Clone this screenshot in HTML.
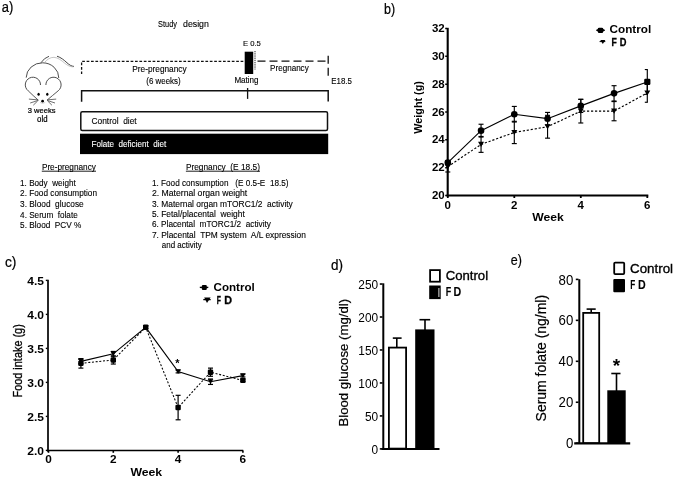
<!DOCTYPE html>
<html><head><meta charset="utf-8"><style>
html,body{margin:0;padding:0;background:#fff;}
svg{display:block;will-change:transform;font-family:"Liberation Sans", sans-serif;}
text{white-space:pre;}
</style></head><body>
<svg xml:space="preserve" width="675" height="477" viewBox="0 0 675 477">
<rect width="675" height="477" fill="#fff"/>
<text x="1.80" y="12.40" font-size="14.7" font-weight="normal" text-anchor="start" fill="#000" stroke="#000" stroke-width="0.22" textLength="11.5" lengthAdjust="spacingAndGlyphs">a)</text>
<text x="158.10" y="26.60" font-size="9.4" font-weight="normal" text-anchor="start" fill="#000" stroke="#000" stroke-width="0.12" textLength="18.9" lengthAdjust="spacingAndGlyphs">Study</text>
<text x="183.00" y="26.60" font-size="9.4" font-weight="normal" text-anchor="start" fill="#000" stroke="#000" stroke-width="0.12" textLength="25.9" lengthAdjust="spacingAndGlyphs">design</text>
<path d="M 26.2 77.6 A 16.3 15.0 0 0 1 58.8 78.0" fill="none" stroke="#444" stroke-width="0.95"/>
<path d="M 40.5 85.0 A 7.6 7.6 0 1 0 28.2 90.8" fill="none" stroke="#444" stroke-width="0.95"/>
<path d="M 45.9 85.0 A 7.6 7.6 0 1 1 58.2 90.8" fill="none" stroke="#444" stroke-width="0.95"/>
<path d="M 28.2 90.8 Q 33 95.5 38.3 100.2" fill="none" stroke="#444" stroke-width="0.9"/>
<path d="M 58.2 90.8 Q 52.5 95.5 47.0 100.2" fill="none" stroke="#444" stroke-width="0.9"/>
<ellipse cx="38.6" cy="94.2" rx="1.15" ry="1.5" fill="#000"/>
<ellipse cx="47.3" cy="94.2" rx="1.15" ry="1.5" fill="#000"/>
<circle cx="42.60" cy="101.20" r="1.35" fill="#000"/>
<path d="M 40.0 102.4 Q 42.6 104.6 45.2 102.4" fill="none" stroke="#bbb" stroke-width="0.6"/>
<line x1="38.20" y1="99.90" x2="28.90" y2="99.10" stroke="#555" stroke-width="0.85"/>
<line x1="38.20" y1="100.40" x2="30.20" y2="103.00" stroke="#555" stroke-width="0.85"/>
<line x1="37.60" y1="101.00" x2="33.30" y2="105.20" stroke="#555" stroke-width="0.85"/>
<line x1="47.10" y1="99.90" x2="56.20" y2="99.10" stroke="#555" stroke-width="0.85"/>
<line x1="47.10" y1="100.40" x2="55.00" y2="103.00" stroke="#555" stroke-width="0.85"/>
<line x1="47.70" y1="101.00" x2="51.90" y2="105.20" stroke="#555" stroke-width="0.85"/>
<path d="M 40.9 62.8 Q 44 58 49 56.3" fill="none" stroke="#444" stroke-width="0.95"/>
<path d="M 57 56.2 C 61 57.5 64 60 67 62.8 C 69.5 65 71.5 66.3 73.9 66.4" fill="none" stroke="#444" stroke-width="1.0"/>
<path d="M 44.5 62.6 C 47 59.5 50 57.3 54 57.3 C 58 57.6 61.5 60.5 64.5 63 C 67.5 65.5 70 66.8 73.3 66.9" fill="none" stroke="#aaa" stroke-width="0.7"/>
<text x="27.70" y="112.90" font-size="7.9" font-weight="normal" text-anchor="start" fill="#000" stroke="#000" stroke-width="0.22" textLength="27.8" lengthAdjust="spacingAndGlyphs">3 weeks</text>
<text x="37.10" y="121.70" font-size="8.2" font-weight="normal" text-anchor="start" fill="#000" stroke="#000" stroke-width="0.22" textLength="10.4" lengthAdjust="spacingAndGlyphs">old</text>
<line x1="82.20" y1="61.30" x2="244.70" y2="61.30" stroke="#111" stroke-width="1.3" stroke-dasharray="2.7 1.7"/>
<line x1="81.60" y1="62.60" x2="81.60" y2="75.50" stroke="#111" stroke-width="1.3" stroke-dasharray="2.7 1.7"/>
<rect x="244.70" y="51.70" width="8.50" height="22.30" fill="#000" rx="0"/>
<line x1="255.00" y1="51.00" x2="255.00" y2="69.50" stroke="#222" stroke-width="1.0" stroke-dasharray="1.3 0.9"/>
<line x1="257.50" y1="61.10" x2="326.50" y2="61.10" stroke="#111" stroke-width="1.3" stroke-dasharray="8 4"/>
<line x1="328.20" y1="55.70" x2="328.20" y2="76.50" stroke="#111" stroke-width="1.3" stroke-dasharray="8 4"/>
<text x="242.90" y="46.00" font-size="7.6" font-weight="normal" text-anchor="start" fill="#000" stroke="#000" stroke-width="0.12" textLength="18.0" lengthAdjust="spacingAndGlyphs">E 0.5</text>
<text x="132.30" y="71.80" font-size="8.7" font-weight="normal" text-anchor="start" fill="#000" stroke="#000" stroke-width="0.12" textLength="54.3" lengthAdjust="spacingAndGlyphs">Pre-pregnancy</text>
<text x="146.30" y="84.30" font-size="8.4" font-weight="normal" text-anchor="start" fill="#000" stroke="#000" stroke-width="0.12" textLength="34.4" lengthAdjust="spacingAndGlyphs">(6 weeks)</text>
<text x="234.40" y="83.40" font-size="8.4" font-weight="normal" text-anchor="start" fill="#000" stroke="#000" stroke-width="0.12" textLength="24.2" lengthAdjust="spacingAndGlyphs">Mating</text>
<text x="270.10" y="71.10" font-size="8.5" font-weight="normal" text-anchor="start" fill="#000" stroke="#000" stroke-width="0.12" textLength="38.6" lengthAdjust="spacingAndGlyphs">Pregnancy</text>
<text x="331.30" y="84.30" font-size="8.7" font-weight="normal" text-anchor="start" fill="#000" stroke="#000" stroke-width="0.12" textLength="20.6" lengthAdjust="spacingAndGlyphs">E18.5</text>
<path d="M 81.6 101.7 L 81.6 90.8 L 328.2 90.8 L 328.2 101.6" fill="none" stroke="#111" stroke-width="1.5"/>
<line x1="247.60" y1="88.00" x2="247.60" y2="98.90" stroke="#111" stroke-width="1.3"/>
<rect x="80.80" y="111.80" width="246.70" height="18.60" fill="#fff" stroke="#111" stroke-width="1.5" rx="1.5"/>
<text x="91.50" y="123.90" font-size="9.5" font-weight="normal" text-anchor="start" fill="#000" stroke="#000" stroke-width="0.12" textLength="45.2" lengthAdjust="spacingAndGlyphs">Control  diet</text>
<rect x="80.00" y="133.70" width="248.20" height="20.40" fill="#000" rx="0"/>
<text x="91.50" y="146.60" font-size="9.7" font-weight="normal" text-anchor="start" fill="#fff" stroke="#fff" stroke-width="0.12" textLength="74.8" lengthAdjust="spacingAndGlyphs">Folate  deficient  diet</text>
<text x="41.90" y="169.80" font-size="9.0" font-weight="normal" text-anchor="start" fill="#000" stroke="#000" stroke-width="0.12" textLength="54.0" lengthAdjust="spacingAndGlyphs">Pre-pregnancy</text>
<line x1="41.80" y1="171.20" x2="96.00" y2="171.20" stroke="#000" stroke-width="0.9"/>
<text x="185.90" y="169.80" font-size="9.4" font-weight="normal" text-anchor="start" fill="#000" stroke="#000" stroke-width="0.12" textLength="74.1" lengthAdjust="spacingAndGlyphs">Pregnancy  (E 18.5)</text>
<line x1="185.90" y1="171.20" x2="260.00" y2="171.20" stroke="#000" stroke-width="0.9"/>
<text x="20.10" y="186.30" font-size="9.4" font-weight="normal" text-anchor="start" fill="#000" stroke="#000" stroke-width="0.12" textLength="55.6" lengthAdjust="spacingAndGlyphs">1. Body  weight</text>
<text x="20.10" y="196.30" font-size="9.4" font-weight="normal" text-anchor="start" fill="#000" stroke="#000" stroke-width="0.12" textLength="76.9" lengthAdjust="spacingAndGlyphs">2. Food consumption</text>
<text x="20.10" y="207.00" font-size="9.4" font-weight="normal" text-anchor="start" fill="#000" stroke="#000" stroke-width="0.12" textLength="63.6" lengthAdjust="spacingAndGlyphs">3. Blood  glucose</text>
<text x="20.10" y="217.70" font-size="9.4" font-weight="normal" text-anchor="start" fill="#000" stroke="#000" stroke-width="0.12" textLength="57.6" lengthAdjust="spacingAndGlyphs">4. Serum  folate</text>
<text x="20.10" y="227.70" font-size="9.4" font-weight="normal" text-anchor="start" fill="#000" stroke="#000" stroke-width="0.12" textLength="61.3" lengthAdjust="spacingAndGlyphs">5. Blood  PCV %</text>
<text x="151.90" y="186.40" font-size="9.4" font-weight="normal" text-anchor="start" fill="#000" stroke="#000" stroke-width="0.12" textLength="136.7" lengthAdjust="spacingAndGlyphs">1. Food consumption   (E 0.5-E  18.5)</text>
<text x="151.90" y="196.20" font-size="9.4" font-weight="normal" text-anchor="start" fill="#000" stroke="#000" stroke-width="0.12" textLength="95.3" lengthAdjust="spacingAndGlyphs">2. Maternal organ weight</text>
<text x="151.90" y="206.50" font-size="9.4" font-weight="normal" text-anchor="start" fill="#000" stroke="#000" stroke-width="0.12" textLength="140.9" lengthAdjust="spacingAndGlyphs">3. Maternal organ mTORC1/2  activity</text>
<text x="151.90" y="216.80" font-size="9.4" font-weight="normal" text-anchor="start" fill="#000" stroke="#000" stroke-width="0.12" textLength="92.9" lengthAdjust="spacingAndGlyphs">5. Fetal/placental  weight</text>
<text x="151.90" y="227.10" font-size="9.4" font-weight="normal" text-anchor="start" fill="#000" stroke="#000" stroke-width="0.12" textLength="119.0" lengthAdjust="spacingAndGlyphs">6. Placental  mTORC1/2  activity</text>
<text x="151.90" y="237.50" font-size="9.4" font-weight="normal" text-anchor="start" fill="#000" stroke="#000" stroke-width="0.12" textLength="154.0" lengthAdjust="spacingAndGlyphs">7. Placental  TPM system  A/L expression</text>
<text x="161.80" y="247.60" font-size="9.4" font-weight="normal" text-anchor="start" fill="#000" stroke="#000" stroke-width="0.12" textLength="39.9" lengthAdjust="spacingAndGlyphs">and activity</text>
<text x="384.00" y="13.80" font-size="14.7" font-weight="normal" text-anchor="start" fill="#000" stroke="#000" stroke-width="0.22" textLength="11.1" lengthAdjust="spacingAndGlyphs">b)</text>
<line x1="447.70" y1="27.80" x2="447.70" y2="196.50" stroke="#000" stroke-width="2.1"/>
<line x1="446.60" y1="195.50" x2="648.30" y2="195.50" stroke="#000" stroke-width="2.0"/>
<line x1="445.20" y1="195.50" x2="447.00" y2="195.50" stroke="#000" stroke-width="1.5"/>
<text x="431.90" y="199.15" font-size="10.3" font-weight="bold" text-anchor="start" fill="#000" textLength="12.8" lengthAdjust="spacingAndGlyphs">20</text>
<line x1="445.20" y1="167.67" x2="447.00" y2="167.67" stroke="#000" stroke-width="1.5"/>
<text x="431.90" y="171.32" font-size="10.3" font-weight="bold" text-anchor="start" fill="#000" textLength="12.8" lengthAdjust="spacingAndGlyphs">22</text>
<line x1="445.20" y1="139.83" x2="447.00" y2="139.83" stroke="#000" stroke-width="1.5"/>
<text x="431.90" y="143.48" font-size="10.3" font-weight="bold" text-anchor="start" fill="#000" textLength="12.8" lengthAdjust="spacingAndGlyphs">24</text>
<line x1="445.20" y1="112.00" x2="447.00" y2="112.00" stroke="#000" stroke-width="1.5"/>
<text x="431.90" y="115.65" font-size="10.3" font-weight="bold" text-anchor="start" fill="#000" textLength="12.8" lengthAdjust="spacingAndGlyphs">26</text>
<line x1="445.20" y1="84.16" x2="447.00" y2="84.16" stroke="#000" stroke-width="1.5"/>
<text x="431.90" y="87.81" font-size="10.3" font-weight="bold" text-anchor="start" fill="#000" textLength="12.8" lengthAdjust="spacingAndGlyphs">28</text>
<line x1="445.20" y1="56.33" x2="447.00" y2="56.33" stroke="#000" stroke-width="1.5"/>
<text x="431.90" y="59.98" font-size="10.3" font-weight="bold" text-anchor="start" fill="#000" textLength="12.8" lengthAdjust="spacingAndGlyphs">30</text>
<line x1="445.20" y1="28.50" x2="447.00" y2="28.50" stroke="#000" stroke-width="1.5"/>
<text x="431.90" y="32.15" font-size="10.3" font-weight="bold" text-anchor="start" fill="#000" textLength="12.8" lengthAdjust="spacingAndGlyphs">32</text>
<line x1="447.80" y1="195.50" x2="447.80" y2="198.00" stroke="#000" stroke-width="1.8"/>
<text x="444.60" y="208.90" font-size="10.3" font-weight="bold" text-anchor="start" fill="#000" textLength="6.4" lengthAdjust="spacingAndGlyphs">0</text>
<line x1="514.30" y1="195.50" x2="514.30" y2="198.00" stroke="#000" stroke-width="1.8"/>
<text x="511.10" y="208.90" font-size="10.3" font-weight="bold" text-anchor="start" fill="#000" textLength="6.4" lengthAdjust="spacingAndGlyphs">2</text>
<line x1="580.80" y1="195.50" x2="580.80" y2="198.00" stroke="#000" stroke-width="1.8"/>
<text x="577.60" y="208.90" font-size="10.3" font-weight="bold" text-anchor="start" fill="#000" textLength="6.4" lengthAdjust="spacingAndGlyphs">4</text>
<line x1="647.30" y1="195.50" x2="647.30" y2="198.00" stroke="#000" stroke-width="1.8"/>
<text x="644.10" y="208.90" font-size="10.3" font-weight="bold" text-anchor="start" fill="#000" textLength="6.4" lengthAdjust="spacingAndGlyphs">6</text>
<text x="532.30" y="221.10" font-size="10.8" font-weight="bold" text-anchor="start" fill="#000" textLength="31.58" lengthAdjust="spacingAndGlyphs">Week</text>
<text x="422.50" y="133.70" font-size="11.6" font-weight="bold" text-anchor="start" fill="#000" textLength="52.6" lengthAdjust="spacingAndGlyphs" transform="rotate(-90 422.50 133.70)">Weight (g)</text>
<line x1="447.80" y1="160.57" x2="447.80" y2="164.74" stroke="#000" stroke-width="1.15"/>
<line x1="445.30" y1="160.57" x2="450.30" y2="160.57" stroke="#000" stroke-width="1.15"/>
<line x1="445.30" y1="164.74" x2="450.30" y2="164.74" stroke="#000" stroke-width="1.15"/>
<line x1="447.80" y1="161.40" x2="447.80" y2="171.98" stroke="#000" stroke-width="1.15"/>
<line x1="445.30" y1="161.40" x2="450.30" y2="161.40" stroke="#000" stroke-width="1.15"/>
<line x1="445.30" y1="171.98" x2="450.30" y2="171.98" stroke="#000" stroke-width="1.15"/>
<line x1="481.05" y1="124.24" x2="481.05" y2="137.05" stroke="#000" stroke-width="1.15"/>
<line x1="478.55" y1="124.24" x2="483.55" y2="124.24" stroke="#000" stroke-width="1.15"/>
<line x1="478.55" y1="137.05" x2="483.55" y2="137.05" stroke="#000" stroke-width="1.15"/>
<line x1="481.05" y1="136.49" x2="481.05" y2="152.36" stroke="#000" stroke-width="1.15"/>
<line x1="478.55" y1="136.49" x2="483.55" y2="136.49" stroke="#000" stroke-width="1.15"/>
<line x1="478.55" y1="152.36" x2="483.55" y2="152.36" stroke="#000" stroke-width="1.15"/>
<line x1="514.30" y1="106.43" x2="514.30" y2="122.02" stroke="#000" stroke-width="1.15"/>
<line x1="511.80" y1="106.43" x2="516.80" y2="106.43" stroke="#000" stroke-width="1.15"/>
<line x1="511.80" y1="122.02" x2="516.80" y2="122.02" stroke="#000" stroke-width="1.15"/>
<line x1="514.30" y1="121.32" x2="514.30" y2="143.59" stroke="#000" stroke-width="1.15"/>
<line x1="511.80" y1="121.32" x2="516.80" y2="121.32" stroke="#000" stroke-width="1.15"/>
<line x1="511.80" y1="143.59" x2="516.80" y2="143.59" stroke="#000" stroke-width="1.15"/>
<line x1="547.55" y1="112.42" x2="547.55" y2="124.94" stroke="#000" stroke-width="1.15"/>
<line x1="545.05" y1="112.42" x2="550.05" y2="112.42" stroke="#000" stroke-width="1.15"/>
<line x1="545.05" y1="124.94" x2="550.05" y2="124.94" stroke="#000" stroke-width="1.15"/>
<line x1="547.55" y1="115.34" x2="547.55" y2="138.16" stroke="#000" stroke-width="1.15"/>
<line x1="545.05" y1="115.34" x2="550.05" y2="115.34" stroke="#000" stroke-width="1.15"/>
<line x1="545.05" y1="138.16" x2="550.05" y2="138.16" stroke="#000" stroke-width="1.15"/>
<line x1="580.80" y1="99.33" x2="580.80" y2="112.42" stroke="#000" stroke-width="1.15"/>
<line x1="578.30" y1="99.33" x2="583.30" y2="99.33" stroke="#000" stroke-width="1.15"/>
<line x1="578.30" y1="112.42" x2="583.30" y2="112.42" stroke="#000" stroke-width="1.15"/>
<line x1="580.80" y1="99.33" x2="580.80" y2="122.99" stroke="#000" stroke-width="1.15"/>
<line x1="578.30" y1="99.33" x2="583.30" y2="99.33" stroke="#000" stroke-width="1.15"/>
<line x1="578.30" y1="122.99" x2="583.30" y2="122.99" stroke="#000" stroke-width="1.15"/>
<line x1="614.05" y1="85.69" x2="614.05" y2="101.00" stroke="#000" stroke-width="1.15"/>
<line x1="611.55" y1="85.69" x2="616.55" y2="85.69" stroke="#000" stroke-width="1.15"/>
<line x1="611.55" y1="101.00" x2="616.55" y2="101.00" stroke="#000" stroke-width="1.15"/>
<line x1="614.05" y1="101.56" x2="614.05" y2="120.77" stroke="#000" stroke-width="1.15"/>
<line x1="611.55" y1="101.56" x2="616.55" y2="101.56" stroke="#000" stroke-width="1.15"/>
<line x1="611.55" y1="120.77" x2="616.55" y2="120.77" stroke="#000" stroke-width="1.15"/>
<line x1="647.30" y1="69.55" x2="647.30" y2="94.32" stroke="#000" stroke-width="1.15"/>
<line x1="644.80" y1="69.55" x2="647.80" y2="69.55" stroke="#000" stroke-width="1.15"/>
<line x1="644.80" y1="94.32" x2="647.80" y2="94.32" stroke="#000" stroke-width="1.15"/>
<line x1="647.30" y1="83.61" x2="647.30" y2="102.26" stroke="#000" stroke-width="1.15"/>
<line x1="644.80" y1="83.61" x2="647.80" y2="83.61" stroke="#000" stroke-width="1.15"/>
<line x1="644.80" y1="102.26" x2="647.80" y2="102.26" stroke="#000" stroke-width="1.15"/>
<path d="M 447.80 162.66 L 481.05 130.65 L 514.30 114.22 L 547.55 118.68 L 580.80 105.87 L 614.05 93.35 L 647.30 81.94" fill="none" stroke="#000" stroke-width="1.15"/>
<path d="M 447.80 166.69 L 481.05 144.42 L 514.30 132.46 L 547.55 126.75 L 580.80 111.16 L 614.05 111.16 L 647.30 92.93" fill="none" stroke="#000" stroke-width="1.15" stroke-dasharray="2.2 1.8"/>
<circle cx="447.80" cy="162.66" r="3.30" fill="#000"/>
<path d="M 444.80 164.14 L 450.80 164.14 L 447.80 169.24 Z" fill="#000" stroke="none" stroke-width="1"/>
<circle cx="481.05" cy="130.65" r="3.30" fill="#000"/>
<path d="M 478.05 141.87 L 484.05 141.87 L 481.05 146.97 Z" fill="#000" stroke="none" stroke-width="1"/>
<circle cx="514.30" cy="114.22" r="3.30" fill="#000"/>
<path d="M 511.30 129.91 L 517.30 129.91 L 514.30 135.01 Z" fill="#000" stroke="none" stroke-width="1"/>
<circle cx="547.55" cy="118.68" r="3.30" fill="#000"/>
<path d="M 544.55 124.20 L 550.55 124.20 L 547.55 129.30 Z" fill="#000" stroke="none" stroke-width="1"/>
<circle cx="580.80" cy="105.87" r="3.30" fill="#000"/>
<path d="M 577.80 108.61 L 583.80 108.61 L 580.80 113.71 Z" fill="#000" stroke="none" stroke-width="1"/>
<circle cx="614.05" cy="93.35" r="3.30" fill="#000"/>
<path d="M 611.05 108.61 L 617.05 108.61 L 614.05 113.71 Z" fill="#000" stroke="none" stroke-width="1"/>
<rect x="644.20" y="78.84" width="6.20" height="6.20" fill="#000" rx="1.2"/>
<path d="M 644.30 90.38 L 650.30 90.38 L 647.30 95.48 Z" fill="#000" stroke="none" stroke-width="1"/>
<line x1="596.30" y1="30.30" x2="604.80" y2="30.30" stroke="#000" stroke-width="1.4"/>
<rect x="597.90" y="27.70" width="5.20" height="5.20" fill="#000" rx="1.2"/>
<path d="M 596.8 30.3 L 598.2 28.3 L 602.8 28.3 L 604.3 30.3 L 602.8 32.3 L 598.2 32.3 Z" fill="#000" stroke="none" stroke-width="1"/>
<line x1="599.60" y1="41.60" x2="605.30" y2="41.60" stroke="#000" stroke-width="1.0"/>
<path d="M 600.30 39.88 L 605.30 39.88 L 602.80 44.12 Z" fill="#000" stroke="none" stroke-width="1"/>
<text x="609.50" y="32.90" font-size="11.0" font-weight="bold" text-anchor="start" fill="#000" textLength="41.7" lengthAdjust="spacingAndGlyphs">Control</text>
<text x="611.60" y="45.60" font-size="10.4" font-weight="bold" text-anchor="start" fill="#000" stroke="#000" stroke-width="0.3" textLength="5.3" lengthAdjust="spacingAndGlyphs">F</text>
<text x="619.70" y="45.60" font-size="10.4" font-weight="bold" text-anchor="start" fill="#000" stroke="#000" stroke-width="0.3" textLength="6.7" lengthAdjust="spacingAndGlyphs">D</text>
<text x="4.90" y="267.00" font-size="14.7" font-weight="normal" text-anchor="start" fill="#000" stroke="#000" stroke-width="0.22" textLength="11.5" lengthAdjust="spacingAndGlyphs">c)</text>
<line x1="48.00" y1="279.80" x2="48.00" y2="451.80" stroke="#000" stroke-width="1.7"/>
<line x1="47.20" y1="450.50" x2="243.20" y2="450.50" stroke="#000" stroke-width="1.6"/>
<line x1="45.80" y1="450.40" x2="47.50" y2="450.40" stroke="#000" stroke-width="1.4"/>
<text x="27.27" y="454.80" font-size="10.2" font-weight="bold" text-anchor="start" fill="#000" textLength="16.73" lengthAdjust="spacingAndGlyphs">2.0</text>
<line x1="45.80" y1="416.40" x2="47.50" y2="416.40" stroke="#000" stroke-width="1.4"/>
<text x="27.27" y="420.80" font-size="10.2" font-weight="bold" text-anchor="start" fill="#000" textLength="16.73" lengthAdjust="spacingAndGlyphs">2.5</text>
<line x1="45.80" y1="382.40" x2="47.50" y2="382.40" stroke="#000" stroke-width="1.4"/>
<text x="27.27" y="386.80" font-size="10.2" font-weight="bold" text-anchor="start" fill="#000" textLength="16.73" lengthAdjust="spacingAndGlyphs">3.0</text>
<line x1="45.80" y1="348.40" x2="47.50" y2="348.40" stroke="#000" stroke-width="1.4"/>
<text x="27.27" y="352.80" font-size="10.2" font-weight="bold" text-anchor="start" fill="#000" textLength="16.73" lengthAdjust="spacingAndGlyphs">3.5</text>
<line x1="45.80" y1="314.40" x2="47.50" y2="314.40" stroke="#000" stroke-width="1.4"/>
<text x="27.27" y="318.80" font-size="10.2" font-weight="bold" text-anchor="start" fill="#000" textLength="16.73" lengthAdjust="spacingAndGlyphs">4.0</text>
<line x1="45.80" y1="280.40" x2="47.50" y2="280.40" stroke="#000" stroke-width="1.4"/>
<text x="27.27" y="284.80" font-size="10.2" font-weight="bold" text-anchor="start" fill="#000" textLength="16.73" lengthAdjust="spacingAndGlyphs">4.5</text>
<line x1="48.50" y1="450.50" x2="48.50" y2="452.80" stroke="#000" stroke-width="1.6"/>
<text x="45.22" y="463.00" font-size="10.0" font-weight="bold" text-anchor="start" fill="#000" textLength="6.56" lengthAdjust="spacingAndGlyphs">0</text>
<line x1="113.30" y1="450.50" x2="113.30" y2="452.80" stroke="#000" stroke-width="1.6"/>
<text x="110.02" y="463.00" font-size="10.0" font-weight="bold" text-anchor="start" fill="#000" textLength="6.56" lengthAdjust="spacingAndGlyphs">2</text>
<line x1="178.10" y1="450.50" x2="178.10" y2="452.80" stroke="#000" stroke-width="1.6"/>
<text x="174.82" y="463.00" font-size="10.0" font-weight="bold" text-anchor="start" fill="#000" textLength="6.56" lengthAdjust="spacingAndGlyphs">4</text>
<line x1="242.90" y1="450.50" x2="242.90" y2="452.80" stroke="#000" stroke-width="1.6"/>
<text x="239.62" y="463.00" font-size="10.0" font-weight="bold" text-anchor="start" fill="#000" textLength="6.56" lengthAdjust="spacingAndGlyphs">6</text>
<text x="130.40" y="475.60" font-size="10.5" font-weight="bold" text-anchor="start" fill="#000" textLength="31.78" lengthAdjust="spacingAndGlyphs">Week</text>
<text x="21.80" y="397.50" font-size="12.2" font-weight="normal" text-anchor="start" fill="#000" stroke="#000" stroke-width="0.3" textLength="73.3" lengthAdjust="spacingAndGlyphs" transform="rotate(-90 21.80 397.50)">Food intake (g)</text>
<line x1="80.90" y1="358.60" x2="80.90" y2="368.12" stroke="#000" stroke-width="1.2"/>
<line x1="78.40" y1="358.60" x2="83.40" y2="358.60" stroke="#000" stroke-width="1.2"/>
<line x1="78.40" y1="368.12" x2="83.40" y2="368.12" stroke="#000" stroke-width="1.2"/>
<line x1="80.90" y1="358.94" x2="80.90" y2="363.70" stroke="#000" stroke-width="1.2"/>
<line x1="78.40" y1="358.94" x2="83.40" y2="358.94" stroke="#000" stroke-width="1.2"/>
<line x1="78.40" y1="363.70" x2="83.40" y2="363.70" stroke="#000" stroke-width="1.2"/>
<line x1="113.30" y1="355.88" x2="113.30" y2="364.04" stroke="#000" stroke-width="1.2"/>
<line x1="110.80" y1="355.88" x2="115.80" y2="355.88" stroke="#000" stroke-width="1.2"/>
<line x1="110.80" y1="364.04" x2="115.80" y2="364.04" stroke="#000" stroke-width="1.2"/>
<line x1="113.30" y1="351.46" x2="113.30" y2="356.22" stroke="#000" stroke-width="1.2"/>
<line x1="110.80" y1="351.46" x2="115.80" y2="351.46" stroke="#000" stroke-width="1.2"/>
<line x1="110.80" y1="356.22" x2="115.80" y2="356.22" stroke="#000" stroke-width="1.2"/>
<line x1="145.70" y1="325.96" x2="145.70" y2="328.68" stroke="#000" stroke-width="1.2"/>
<line x1="143.20" y1="325.96" x2="148.20" y2="325.96" stroke="#000" stroke-width="1.2"/>
<line x1="143.20" y1="328.68" x2="148.20" y2="328.68" stroke="#000" stroke-width="1.2"/>
<line x1="145.70" y1="325.96" x2="145.70" y2="328.68" stroke="#000" stroke-width="1.2"/>
<line x1="143.20" y1="325.96" x2="148.20" y2="325.96" stroke="#000" stroke-width="1.2"/>
<line x1="143.20" y1="328.68" x2="148.20" y2="328.68" stroke="#000" stroke-width="1.2"/>
<line x1="178.10" y1="395.32" x2="178.10" y2="419.80" stroke="#000" stroke-width="1.2"/>
<line x1="175.60" y1="395.32" x2="180.60" y2="395.32" stroke="#000" stroke-width="1.2"/>
<line x1="175.60" y1="419.80" x2="180.60" y2="419.80" stroke="#000" stroke-width="1.2"/>
<line x1="178.10" y1="370.16" x2="178.10" y2="372.88" stroke="#000" stroke-width="1.2"/>
<line x1="175.60" y1="370.16" x2="180.60" y2="370.16" stroke="#000" stroke-width="1.2"/>
<line x1="175.60" y1="372.88" x2="180.60" y2="372.88" stroke="#000" stroke-width="1.2"/>
<line x1="210.50" y1="368.12" x2="210.50" y2="376.28" stroke="#000" stroke-width="1.2"/>
<line x1="208.00" y1="368.12" x2="213.00" y2="368.12" stroke="#000" stroke-width="1.2"/>
<line x1="208.00" y1="376.28" x2="213.00" y2="376.28" stroke="#000" stroke-width="1.2"/>
<line x1="210.50" y1="379.00" x2="210.50" y2="384.44" stroke="#000" stroke-width="1.2"/>
<line x1="208.00" y1="379.00" x2="213.00" y2="379.00" stroke="#000" stroke-width="1.2"/>
<line x1="208.00" y1="384.44" x2="213.00" y2="384.44" stroke="#000" stroke-width="1.2"/>
<line x1="242.90" y1="379.00" x2="242.90" y2="381.72" stroke="#000" stroke-width="1.2"/>
<line x1="240.40" y1="379.00" x2="245.40" y2="379.00" stroke="#000" stroke-width="1.2"/>
<line x1="240.40" y1="381.72" x2="245.40" y2="381.72" stroke="#000" stroke-width="1.2"/>
<line x1="242.90" y1="374.24" x2="242.90" y2="376.96" stroke="#000" stroke-width="1.2"/>
<line x1="240.40" y1="374.24" x2="245.40" y2="374.24" stroke="#000" stroke-width="1.2"/>
<line x1="240.40" y1="376.96" x2="245.40" y2="376.96" stroke="#000" stroke-width="1.2"/>
<path d="M 80.90 361.32 L 113.30 353.84 L 145.70 327.32 L 178.10 371.52 L 210.50 381.72 L 242.90 375.60" fill="none" stroke="#000" stroke-width="1.15"/>
<path d="M 80.90 363.36 L 113.30 359.96 L 145.70 327.32 L 178.10 407.56 L 210.50 372.20 L 242.90 380.36" fill="none" stroke="#000" stroke-width="1.05" stroke-dasharray="2.0 1.7"/>
<rect x="78.20" y="360.66" width="5.40" height="5.40" fill="#000" rx="1.2"/>
<path d="M 78.10 358.94 L 83.70 358.94 L 80.90 363.70 Z" fill="#000" stroke="none" stroke-width="1"/>
<rect x="110.60" y="357.26" width="5.40" height="5.40" fill="#000" rx="1.2"/>
<path d="M 110.50 351.46 L 116.10 351.46 L 113.30 356.22 Z" fill="#000" stroke="none" stroke-width="1"/>
<rect x="143.00" y="324.62" width="5.40" height="5.40" fill="#000" rx="1.2"/>
<path d="M 142.90 324.94 L 148.50 324.94 L 145.70 329.70 Z" fill="#000" stroke="none" stroke-width="1"/>
<rect x="175.40" y="404.86" width="5.40" height="5.40" fill="#000" rx="1.2"/>
<path d="M 175.30 369.14 L 180.90 369.14 L 178.10 373.90 Z" fill="#000" stroke="none" stroke-width="1"/>
<rect x="207.80" y="369.50" width="5.40" height="5.40" fill="#000" rx="1.2"/>
<path d="M 207.70 379.34 L 213.30 379.34 L 210.50 384.10 Z" fill="#000" stroke="none" stroke-width="1"/>
<rect x="240.20" y="377.66" width="5.40" height="5.40" fill="#000" rx="1.2"/>
<path d="M 240.10 373.22 L 245.70 373.22 L 242.90 377.98 Z" fill="#000" stroke="none" stroke-width="1"/>
<text x="177.30" y="366.60" font-size="11" font-weight="bold" text-anchor="middle" fill="#000">*</text>
<line x1="199.80" y1="287.40" x2="208.30" y2="287.40" stroke="#000" stroke-width="1.4"/>
<rect x="201.80" y="284.90" width="5.00" height="5.00" fill="#000" rx="1.2"/>
<line x1="203.30" y1="299.60" x2="210.70" y2="299.60" stroke="#000" stroke-width="1.3"/>
<path d="M 204.2 297.4 L 210.6 297.4 L 207.0 303.0 Z" fill="#000" stroke="none" stroke-width="1"/>
<text x="213.50" y="290.80" font-size="10.3" font-weight="bold" text-anchor="start" fill="#000" textLength="41.3" lengthAdjust="spacingAndGlyphs">Control</text>
<text x="216.80" y="303.50" font-size="10.6" font-weight="bold" text-anchor="start" fill="#000" stroke="#000" stroke-width="0.3" textLength="4.2" lengthAdjust="spacingAndGlyphs">F</text>
<text x="224.20" y="303.50" font-size="10.6" font-weight="bold" text-anchor="start" fill="#000" stroke="#000" stroke-width="0.3" textLength="7.8" lengthAdjust="spacingAndGlyphs">D</text>
<text x="331.10" y="270.00" font-size="14.7" font-weight="normal" text-anchor="start" fill="#000" stroke="#000" stroke-width="0.22" textLength="12.0" lengthAdjust="spacingAndGlyphs">d)</text>
<line x1="383.30" y1="283.30" x2="383.30" y2="449.50" stroke="#000" stroke-width="2.0"/>
<line x1="381.50" y1="449.00" x2="439.50" y2="449.00" stroke="#000" stroke-width="2.1"/>
<line x1="379.80" y1="448.90" x2="382.50" y2="448.90" stroke="#000" stroke-width="1.6"/>
<text x="371.50" y="453.60" font-size="13.2" font-weight="normal" text-anchor="start" fill="#000" textLength="6.6" lengthAdjust="spacingAndGlyphs">0</text>
<line x1="379.80" y1="415.92" x2="382.50" y2="415.92" stroke="#000" stroke-width="1.6"/>
<text x="364.90" y="420.62" font-size="13.2" font-weight="normal" text-anchor="start" fill="#000" textLength="13.2" lengthAdjust="spacingAndGlyphs">50</text>
<line x1="379.80" y1="382.95" x2="382.50" y2="382.95" stroke="#000" stroke-width="1.6"/>
<text x="358.30" y="387.65" font-size="13.2" font-weight="normal" text-anchor="start" fill="#000" textLength="19.81" lengthAdjust="spacingAndGlyphs">100</text>
<line x1="379.80" y1="349.97" x2="382.50" y2="349.97" stroke="#000" stroke-width="1.6"/>
<text x="358.30" y="354.67" font-size="13.2" font-weight="normal" text-anchor="start" fill="#000" textLength="19.81" lengthAdjust="spacingAndGlyphs">150</text>
<line x1="379.80" y1="317.00" x2="382.50" y2="317.00" stroke="#000" stroke-width="1.6"/>
<text x="358.30" y="321.70" font-size="13.2" font-weight="normal" text-anchor="start" fill="#000" textLength="19.81" lengthAdjust="spacingAndGlyphs">200</text>
<line x1="379.80" y1="284.02" x2="382.50" y2="284.02" stroke="#000" stroke-width="1.6"/>
<text x="358.30" y="288.72" font-size="13.2" font-weight="normal" text-anchor="start" fill="#000" textLength="19.81" lengthAdjust="spacingAndGlyphs">250</text>
<rect x="388.90" y="347.60" width="17.20" height="101.00" fill="#fff" stroke="#000" stroke-width="1.8" rx="0"/>
<line x1="396.80" y1="338.10" x2="396.80" y2="347.60" stroke="#000" stroke-width="1.6"/>
<line x1="392.80" y1="338.10" x2="401.60" y2="338.10" stroke="#000" stroke-width="1.6"/>
<rect x="415.20" y="329.40" width="19.30" height="119.20" fill="#000" rx="0"/>
<line x1="425.00" y1="319.70" x2="425.00" y2="330.00" stroke="#000" stroke-width="1.6"/>
<line x1="419.50" y1="319.70" x2="430.20" y2="319.70" stroke="#000" stroke-width="1.6"/>
<text x="348.10" y="426.60" font-size="13.7" font-weight="normal" text-anchor="start" fill="#000" stroke="#000" stroke-width="0.2" textLength="127.81" lengthAdjust="spacingAndGlyphs" transform="rotate(-90 348.10 426.60)">Blood glucose (mg/dl)</text>
<rect x="430.10" y="270.10" width="9.80" height="11.60" fill="#fff" stroke="#000" stroke-width="1.8" rx="0"/>
<rect x="429.20" y="285.50" width="11.50" height="13.60" fill="#000" rx="0"/>
<line x1="438.90" y1="288.00" x2="438.90" y2="297.00" stroke="#fff" stroke-width="0.9"/>
<text x="445.70" y="279.50" font-size="13.3" font-weight="normal" text-anchor="start" fill="#000" stroke="#000" stroke-width="0.35" textLength="42.4" lengthAdjust="spacingAndGlyphs">Control</text>
<text x="445.70" y="295.60" font-size="13.5" font-weight="bold" text-anchor="start" fill="#000" stroke="#000" stroke-width="0.1" textLength="5.5" lengthAdjust="spacingAndGlyphs">F</text>
<text x="453.50" y="295.60" font-size="13.5" font-weight="bold" text-anchor="start" fill="#000" stroke="#000" stroke-width="0.1" textLength="7.7" lengthAdjust="spacingAndGlyphs">D</text>
<text x="510.70" y="264.70" font-size="14.7" font-weight="normal" text-anchor="start" fill="#000" stroke="#000" stroke-width="0.22" textLength="11.1" lengthAdjust="spacingAndGlyphs">e)</text>
<line x1="579.30" y1="279.20" x2="579.30" y2="443.80" stroke="#000" stroke-width="2.0"/>
<line x1="574.20" y1="443.40" x2="630.20" y2="443.40" stroke="#000" stroke-width="2.1"/>
<line x1="575.80" y1="443.20" x2="578.50" y2="443.20" stroke="#000" stroke-width="1.6"/>
<text x="565.95" y="448.30" font-size="14.3" font-weight="normal" text-anchor="start" fill="#000" textLength="7.35" lengthAdjust="spacingAndGlyphs">0</text>
<line x1="575.80" y1="402.25" x2="578.50" y2="402.25" stroke="#000" stroke-width="1.6"/>
<text x="558.60" y="407.35" font-size="14.3" font-weight="normal" text-anchor="start" fill="#000" textLength="14.7" lengthAdjust="spacingAndGlyphs">20</text>
<line x1="575.80" y1="361.30" x2="578.50" y2="361.30" stroke="#000" stroke-width="1.6"/>
<text x="558.60" y="366.40" font-size="14.3" font-weight="normal" text-anchor="start" fill="#000" textLength="14.7" lengthAdjust="spacingAndGlyphs">40</text>
<line x1="575.80" y1="320.35" x2="578.50" y2="320.35" stroke="#000" stroke-width="1.6"/>
<text x="558.60" y="325.45" font-size="14.3" font-weight="normal" text-anchor="start" fill="#000" textLength="14.7" lengthAdjust="spacingAndGlyphs">60</text>
<line x1="575.80" y1="279.40" x2="578.50" y2="279.40" stroke="#000" stroke-width="1.6"/>
<text x="558.60" y="284.50" font-size="14.3" font-weight="normal" text-anchor="start" fill="#000" textLength="14.7" lengthAdjust="spacingAndGlyphs">80</text>
<rect x="583.20" y="312.90" width="16.00" height="130.10" fill="#fff" stroke="#000" stroke-width="1.8" rx="0"/>
<line x1="591.20" y1="309.10" x2="591.20" y2="312.90" stroke="#000" stroke-width="1.6"/>
<line x1="586.60" y1="309.10" x2="595.70" y2="309.10" stroke="#000" stroke-width="1.6"/>
<rect x="607.30" y="390.30" width="18.40" height="52.70" fill="#000" rx="0"/>
<line x1="616.50" y1="373.50" x2="616.50" y2="391.00" stroke="#000" stroke-width="1.6"/>
<line x1="611.30" y1="373.50" x2="620.50" y2="373.50" stroke="#000" stroke-width="1.6"/>
<text x="616.40" y="372.30" font-size="19" font-weight="bold" text-anchor="middle" fill="#000">*</text>
<text x="546.50" y="421.40" font-size="14.3" font-weight="normal" text-anchor="start" fill="#000" stroke="#000" stroke-width="0.2" textLength="126.5" lengthAdjust="spacingAndGlyphs" transform="rotate(-90 546.50 421.40)">Serum folate (ng/ml)</text>
<rect x="614.20" y="262.60" width="10.00" height="11.50" fill="#fff" stroke="#000" stroke-width="1.8" rx="1"/>
<rect x="613.30" y="278.90" width="11.70" height="13.30" fill="#000" rx="1"/>
<text x="630.00" y="273.30" font-size="13.6" font-weight="normal" text-anchor="start" fill="#000" stroke="#000" stroke-width="0.35" textLength="43.1" lengthAdjust="spacingAndGlyphs">Control</text>
<text x="630.20" y="289.30" font-size="13.3" font-weight="bold" text-anchor="start" fill="#000" stroke="#000" stroke-width="0.1" textLength="5.0" lengthAdjust="spacingAndGlyphs">F</text>
<text x="637.90" y="289.30" font-size="13.3" font-weight="bold" text-anchor="start" fill="#000" stroke="#000" stroke-width="0.1" textLength="7.7" lengthAdjust="spacingAndGlyphs">D</text>
</svg>
</body></html>
